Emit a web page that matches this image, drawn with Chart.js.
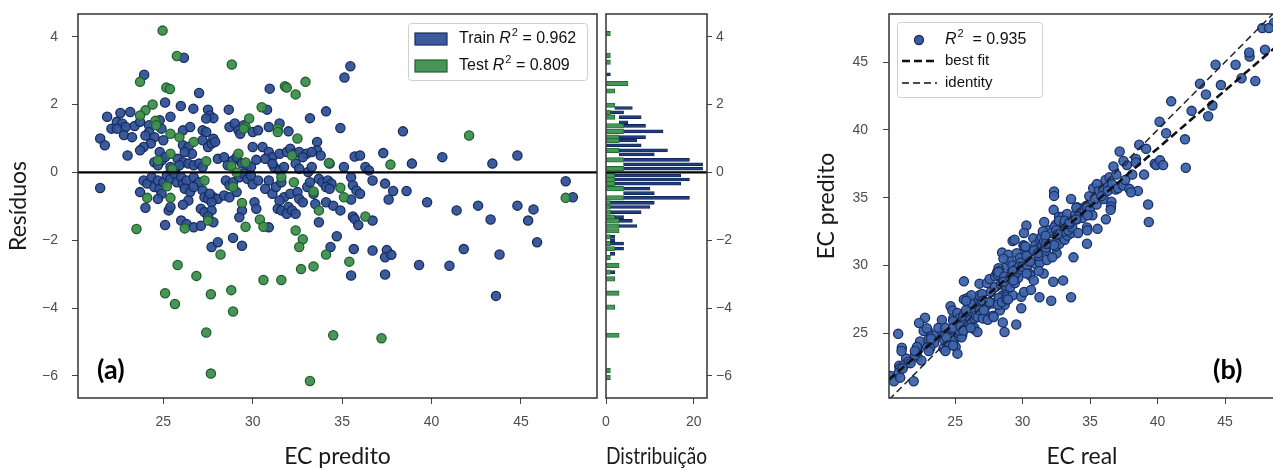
<!DOCTYPE html>
<html>
<head>
<meta charset="utf-8">
<script src="https://cdn.jsdelivr.net/npm/chart.js@4.4.1/dist/chart.umd.min.js"></script>
<style>
  html, body { margin: 0; padding: 0; width: 1273px; height: 470px; overflow: hidden; background: #fff; }
  .panel { position: absolute; top: 0; }
</style>
</head>
<body>
<div class="panel" style="left:0px"><canvas id="residChart" width="600" height="470"></canvas></div>
<div class="panel" style="left:560px"><canvas id="histChart" width="200" height="470"></canvas></div>
<div class="panel" style="left:800px"><canvas id="parityChart" width="500" height="470"></canvas></div>
<script>
// tick labels
const xTicksResid = [25, 30, 35, 40, 45];
const yTicksResid = [-6, -4, -2, 0, 2, 4];
const histTicks = [0, 20];
const parityTicks = [25, 30, 35, 40, 45];

// legend values
const r2Train = '0.962';
const r2Test = '0.809';
const r2All = '0.935';

// [EC predito, residuo] - train set (blue)
const trainPoints = [
  [26.15,3.38],[23.93,2.88],[35.46,3.13],[35.13,2.80],[27.0,2.34],[30.95,2.47],[25.1,2.06],[25.98,1.96],
  [26.68,1.88],[27.5,1.85],[27.6,1.68],[28.66,1.85],[30.8,1.85],[34.1,1.80],[33.2,1.60],[34.9,1.31],
  [38.4,1.21],[21.86,1.64],[22.6,1.75],[23.15,1.78],[22.4,1.49],[22.7,1.44],[22.9,1.34],[22.1,1.29],
  [22.4,1.29],[22.8,1.10],[23.25,1.04],[21.47,1.00],[21.73,0.80],[23.0,0.50],[23.4,1.37],[23.7,1.49],
  [24.2,1.39],[24.2,1.19],[24.0,1.09],[24.5,1.04],[24.3,0.85],[23.9,0.75],[23.7,0.65],[24.8,1.54],
  [24.9,1.29],[25.0,0.95],[25.4,1.64],[26.1,1.24],[26.5,1.34],[26.1,0.80],[26.4,0.75],[26.6,0.55],
  [26.2,0.60],[27.2,1.24],[27.4,1.19],[27.2,0.95],[27.5,0.75],[27.7,0.85],[27.8,0.99],[27.9,0.90],
  [27.8,1.60],[27.4,1.59],[28.7,1.34],[29.0,1.44],[29.2,1.24],[29.5,1.39],[29.3,1.14],[30.0,1.19],
  [30.3,1.24],[30.9,1.34],[31.5,1.44],[32.0,1.21],[30.0,0.75],[30.55,0.75],[30.9,0.60],[31.1,0.45],
  [30.7,0.40],[30.2,0.37],[31.5,0.55],[31.9,0.60],[32.1,0.70],[32.3,0.55],[32.6,0.60],[33.0,0.55],
  [32.8,0.45],[33.6,0.90],[33.6,0.65],[33.8,0.50],[33.3,0.60],[34.3,0.26],[35.1,0.16],[35.7,0.47],
  [36.0,0.50],[36.3,0.16],[36.5,0.06],[37.3,0.57],[38.9,0.26],[40.6,0.45],[43.4,0.26],[44.8,0.50],
  [28.05,0.40],[28.4,0.45],[28.6,0.21],[28.9,0.35],[29.1,0.45],[29.4,0.26],[29.7,0.21],[29.9,0.16],
  [25.8,0.40],[26.1,0.30],[26.4,0.26],[26.7,0.21],[27.0,0.26],[27.2,0.16],[24.8,0.60],[24.9,0.35],
  [25.1,0.45],[24.5,0.30],[24.7,0.21],[25.4,0.16],[25.65,0.06],[25.9,0.21],[31.2,0.16],[31.5,0.06],
  [31.75,0.16],[31.1,0.26],[32.4,0.26],[32.6,0.11],[33.1,0.01],[33.3,0.16],
  [21.47,-0.46],[23.9,-0.24],[24.1,-0.33],[24.35,-0.14],[24.5,-0.43],[23.7,-0.58],[24.0,-1.04],[24.7,-0.24],
  [24.8,-0.48],[25.0,-0.29],[24.9,-0.63],[24.7,-0.78],[25.2,-0.09],[25.4,-0.19],[25.65,-0.04],[25.76,-0.29],
  [26.0,-0.14],[26.1,-0.34],[26.3,-0.24],[26.2,-0.48],[26.5,-0.58],[26.4,-0.83],[26.1,-0.95],[25.3,-1.12],
  [25.4,-1.02],[25.1,-1.55],[26.0,-1.42],[26.3,-1.52],[26.7,-1.62],[27.1,-1.57],[26.7,-0.14],[27.0,-0.29],
  [26.7,-0.43],[27.2,-0.53],[27.3,-0.73],[27.5,-0.78],[27.8,-0.73],[28.05,-0.78],[27.7,-0.88],[27.6,-0.63],
  [27.1,-1.07],[27.3,-1.17],[27.7,-1.12],[27.5,-1.30],[27.8,-1.47],[27.7,-2.20],[28.05,-2.06],[28.5,-0.24],
  [28.7,-0.38],[28.9,-0.29],[28.4,-0.68],[28.7,-0.73],[29.1,-0.58],[29.25,-0.14],[29.5,-0.04],[29.7,-0.19],
  [29.9,-0.09],[30.0,-0.35],[29.4,-1.12],[29.25,-1.32],[28.9,-1.93],[29.4,-2.16],[30.1,-0.88],[30.2,-1.07],
  [30.9,-1.62],[30.3,-0.24],[30.7,-0.48],[30.9,-0.24],[31.1,-0.63],[31.3,-0.43],[31.6,-0.29],[31.75,-0.73],
  [32.1,-0.63],[31.4,-1.07],[31.6,-1.12],[32.0,-1.02],[31.9,-1.22],[32.2,-1.12],[32.4,-1.22],[31.5,-0.83],
  [32.5,-0.58],[32.6,-0.78],[32.8,-0.88],[33.05,-0.43],[33.4,-0.63],[33.5,-0.93],[33.2,-0.29],[33.7,-0.19],
  [33.9,-0.29],[34.2,-0.24],[34.4,-0.33],[34.1,-0.43],[34.3,-0.48],[34.1,-0.88],[34.5,-0.98],[34.9,-1.12],
  [33.7,-1.47],[34.7,-1.88],[34.35,-2.20],[35.5,-0.14],[35.6,-0.38],[35.8,-0.53],[36.0,-0.63],[35.5,-0.80],
  [35.6,-1.30],[35.7,-1.37],[35.9,-1.55],[35.65,-2.26],[36.7,-0.24],[36.7,-1.42],[36.7,-2.30],[35.5,-3.04],
  [37.4,-0.33],[37.85,-0.55],[37.6,-0.80],[37.5,-2.29],[37.4,-2.50],[37.75,-2.43],[37.4,-3.01],[38.6,-0.55],
  [39.75,-0.88],[39.3,-2.73],[41.0,-2.75],[41.4,-1.12],[41.8,-2.26],[42.6,-0.98],[43.3,-1.39],[43.8,-2.42],
  [43.6,-3.64],[44.8,-0.98],[45.4,-1.42],[45.7,-1.09],[45.9,-2.06],[47.5,-0.26],[47.9,-0.73]
];

// [EC predito, residuo] - test set (green)
const testPoints = [
  [24.96,4.18],[25.76,3.43],[28.83,3.18],[23.7,2.67],[25.17,2.50],[25.37,2.46],[31.8,2.54],[31.9,2.50],
  [32.95,2.67],[32.4,2.30],[24.4,2.00],[24.0,1.83],[23.7,1.68],[30.5,1.92],[29.8,1.59],[24.56,1.52],
  [24.6,1.39],[25.4,1.14],[25.9,1.04],[29.6,1.34],[29.5,1.29],[31.4,1.29],[31.4,1.19],[32.5,1.00],
  [26.7,0.90],[25.4,0.55],[29.2,0.55],[32.2,0.50],[34.26,0.28],[37.7,0.23],[24.7,0.35],[42.1,1.09],
  [27.4,0.33],[28.8,0.19],[29.6,0.29],[25.5,0.10],[29.1,0.00],[31.6,-0.14],[32.3,-0.29],[27.3,-0.24],
  [25.2,-0.41],[28.9,-0.43],[33.4,-0.56],[34.9,-0.45],[35.1,-0.73],[24.1,-0.75],[25.4,-0.75],[29.4,-0.90],
  [33.7,-1.12],[36.3,-1.30],[47.5,-0.75],[30.4,-1.39],[30.6,-1.60],[27.5,-1.42],[29.6,-1.60],[23.5,-1.67],
  [26.2,-1.65],[32.4,-1.71],[32.8,-1.97],[32.6,-2.20],[34.1,-2.42],[28.2,-2.42],[25.8,-2.73],[35.4,-2.63],
  [33.4,-2.77],[32.7,-2.85],[26.85,-3.05],[30.6,-3.17],[31.6,-3.17],[25.1,-3.56],[28.8,-3.47],[27.66,-3.59],
  [25.65,-3.88],[28.9,-4.10],[27.4,-4.72],[34.5,-4.80],[37.2,-4.89],[27.66,-5.93],[33.2,-6.15]
];

// residual distribution (horizontal histogram)
const histTestBins = [4.09,3.45,3.25,2.62,2.40,1.98,1.77,1.63,1.37,1.21,1.04,0.94,0.65,0.37,0.11,-0.09,-0.21,-0.33,-0.48,-0.75,
  -0.90,-1.02,-1.17,-1.32,-1.43,-1.58,-1.72,-1.90,-2.10,-2.25,-2.51,-2.74,-2.94,-3.14,-3.56,-3.97,-4.80,-5.84,-6.04];
const histTestCounts = [1,1,1,5,2,2,1,2,4,4,3,3,3,4,4,2,2,2,4,4,
  1,1,1,2,3,3,3,1,1,2,1,3,1,2,3,2,3,1,1];
const histTrainBins = [2.89,1.90,1.77,1.63,1.48,1.37,1.21,1.04,0.94,0.80,0.65,0.53,0.37,0.24,0.11,-0.09,-0.21,-0.33,-0.48,-0.61,
  -0.75,-0.90,-1.02,-1.17,-1.32,-1.43,-1.58,-1.90,-2.00,-2.10,-2.25,-2.40,-2.94];
// train bars are stacked after the test bars
const histTrainBase = [0,2,1,3,3,4,4,3,3,0,3,3,4,4,4,2,2,2,4,4,
  4,1,1,1,2,3,3,1,1,1,2,1,1];
const histTrainCounts = [1,4,3,5,2,5,9,6,4,8,11,8,15,18,18,15,17,15,6,7,
  15,10,9,7,2,3,4,1,1,3,2,1,1];

// panel (b) reference lines, [EC real, EC predito]
const bestFitLine = [[20.1, 21.59], [48.7, 46.07]];
const identityLine = [[20.1, 20.1], [48.7, 48.7]];

// axis limits
const residX = [20.23, 49.25];
const residY = [-6.65, 4.67];
const histMax = 23;
const parityX = [20.1, 48.7];
const parityY = [20.23, 48.54];

const tickFont = { family: 'Liberation Sans', size: 14 };
const tickColor = '#4d4d4d';
const titleFont = { family: 'Lato', size: 23 };
const trainFill = 'rgba(50,82,152,0.95)', trainEdge = '#172c5e';
const testFill = 'rgba(63,143,79,0.95)', testEdge = '#1e5f2c';

const fmt = v => v < 0 ? '\u2212' + Math.abs(v) : String(v);

function axis(o) {
  return {
    type: 'linear', position: o.position, min: o.min, max: o.max, offset: false,
    afterBuildTicks: s => { s.ticks = o.ticks.map(v => ({ value: v })); },
    afterFit: s => {
      if (o.width !== undefined) s.width = o.width;
      if (o.height !== undefined) s.height = o.height;
      // plot areas are placed by the layout padding only
      s.paddingTop = 0; s.paddingBottom = 0; s.paddingLeft = 0; s.paddingRight = 0;
    },
    grid: { drawOnChartArea: false, drawTicks: true, tickLength: o.tickLength || 6, color: '#444', offset: false },
    border: { display: false },
    ticks: { font: tickFont, color: tickColor, padding: o.tickPad, callback: fmt, autoSkip: false, maxRotation: 0 },
    title: o.title
      ? { display: true, text: o.title, font: titleFont, color: '#1a1a1a', padding: o.titlePad }
      : { display: false }
  };
}

// full box around the plot area
const framePlugin = {
  id: 'frame',
  afterDraw(chart) {
    const { ctx, chartArea: a } = chart;
    ctx.save();
    ctx.strokeStyle = '#333';
    ctx.lineWidth = 1.5;
    ctx.strokeRect(a.left, a.top, a.right - a.left, a.bottom - a.top);
    ctx.restore();
  }
};

function legendFrame(ctx, x, y, w, h) {
  ctx.save();
  ctx.fillStyle = 'rgba(255,255,255,0.85)';
  ctx.strokeStyle = '#cfcfcf';
  ctx.lineWidth = 1;
  ctx.beginPath();
  ctx.roundRect(x + 0.5, y + 0.5, w, h, 3);
  ctx.fill();
  ctx.stroke();
  ctx.restore();
}

// "<prefix>R² = value" with italic R and raised 2
function r2Text(ctx, x, y, prefix, gap, value, size) {
  const parts = [
    { t: prefix, f: `${size}px "Liberation Sans"`, dy: 0 },
    { t: 'R', f: `italic ${size}px "Liberation Sans"`, dy: 0 },
    { t: '2', f: `${Math.round(size * 0.68)}px "Liberation Sans"`, dy: -size * 0.36 },
    { t: gap + '= ' + value, f: `${size}px "Liberation Sans"`, dy: 0 }
  ];
  ctx.save();
  ctx.fillStyle = '#111';
  ctx.textBaseline = 'middle';
  let cx = x;
  parts.forEach(p => {
    ctx.font = p.f;
    ctx.fillText(p.t, cx, y + p.dy);
    cx += ctx.measureText(p.t).width + (p.t === 'R' ? 1 : 0);
  });
  ctx.restore();
}

function panelLabel(ctx, text, x, y) {
  ctx.save();
  ctx.font = 'bold 27px Lato';
  ctx.fillStyle = '#000';
  ctx.textBaseline = 'middle';
  ctx.fillText(text, x, y);
  ctx.restore();
}

const residLegend = {
  id: 'residLegend',
  afterDraw(chart) {
    const { ctx, chartArea: a } = chart;
    const w = 179, h = 57, x = a.right - 10 - w, y = a.top + 9;
    legendFrame(ctx, x, y, w, h);
    [[trainFill, trainEdge, 'Train ', r2Train, 16], [testFill, testEdge, 'Test ', r2Test, 43]].forEach(([fill, edge, name, val, dy]) => {
      ctx.save();
      ctx.fillStyle = fill;
      ctx.strokeStyle = edge;
      ctx.lineWidth = 1.2;
      ctx.fillRect(x + 7, y + dy - 6, 32, 12);
      ctx.strokeRect(x + 7, y + dy - 6, 32, 12);
      ctx.restore();
      r2Text(ctx, x + 51, y + dy, name, ' ', val, 16);
    });
    panelLabel(ctx, '(a)', a.left + 19, a.bottom - 28);
  }
};

const parityLegend = {
  id: 'parityLegend',
  afterDraw(chart) {
    const { ctx, chartArea: a } = chart;
    const x = a.left + 8, y = a.top + 8, w = 145, h = 75;
    legendFrame(ctx, x, y, w, h);
    ctx.save();
    ctx.fillStyle = trainFill;
    ctx.strokeStyle = trainEdge;
    ctx.lineWidth = 1.3;
    ctx.beginPath();
    ctx.arc(x + 22, y + 18, 4.5, 0, Math.PI * 2);
    ctx.fill();
    ctx.stroke();
    ctx.strokeStyle = '#111';
    ctx.lineWidth = 2.6;
    ctx.setLineDash([8, 4]);
    ctx.beginPath(); ctx.moveTo(x + 5, y + 39); ctx.lineTo(x + 40, y + 39); ctx.stroke();
    ctx.lineWidth = 1.5;
    ctx.setLineDash([7, 4]);
    ctx.beginPath(); ctx.moveTo(x + 5, y + 61); ctx.lineTo(x + 40, y + 61); ctx.stroke();
    ctx.setLineDash([]);
    ctx.fillStyle = '#111';
    ctx.font = '15px "Liberation Sans"';
    ctx.textBaseline = 'middle';
    ctx.fillText('best fit', x + 48, y + 39);
    ctx.fillText('identity', x + 48, y + 61);
    ctx.restore();
    r2Text(ctx, x + 48, y + 18, '', '  ', r2All, 16);
    panelLabel(ctx, '(b)', a.right - 62, a.bottom - 28);
  }
};

const common = {
  responsive: false,
  animation: false,
  events: [],
  plugins: { legend: { display: false }, tooltip: { enabled: false } }
};

const pointStyle = (fill, edge) => ({
  backgroundColor: fill, borderColor: edge, pointRadius: 4.6, pointBorderWidth: 1.3, showLine: false
});

// (a) residuals vs predicted
new Chart(document.getElementById('residChart'), {
  type: 'scatter',
  data: {
    datasets: [
      { label: 'zero', data: [{ x: residX[0], y: 0 }, { x: residX[1], y: 0 }], showLine: true,
        borderColor: '#000', borderWidth: 2.2, pointRadius: 0, order: 0 },
      { label: 'Test', data: testPoints.map(([x, y]) => ({ x, y })), ...pointStyle(testFill, testEdge), order: 1 },
      { label: 'Train', data: trainPoints.map(([x, y]) => ({ x, y })), ...pointStyle(trainFill, trainEdge), order: 2 }
    ]
  },
  options: {
    ...common,
    layout: { autoPadding: false, padding: { top: 14, right: 3, left: 0, bottom: 0 } },
    scales: {
      x: axis({ position: 'bottom', min: residX[0], max: residX[1], ticks: xTicksResid, height: 72, tickPad: 10,
        title: 'EC predito', titlePad: { top: 0, bottom: 0 } }),
      y: axis({ position: 'left', min: residY[0], max: residY[1], ticks: yTicksResid, width: 78, tickPad: 14,
        title: 'Resíduos', titlePad: { top: 5, bottom: 0 } })
    }
  },
  plugins: [framePlugin, residLegend]
});

// residual distribution
new Chart(document.getElementById('histChart'), {
  type: 'bar',
  data: {
    datasets: [
      { type: 'line', label: 'zero', data: [{ x: 0, y: 0 }, { x: histMax, y: 0 }], borderColor: '#000',
        borderWidth: 2.2, pointRadius: 0, order: 0 },
      { label: 'Test', indexAxis: 'y', grouped: false, barThickness: 4.5,
        data: histTestBins.map((b, i) => ({ x: histTestCounts[i], y: b })),
        backgroundColor: 'rgba(61,145,80,0.95)', borderColor: '#1d6a2e', borderWidth: 0.8, borderSkipped: false, order: 1 },
      { label: 'Train', indexAxis: 'y', grouped: false, barThickness: 3,
        data: histTrainBins.map((b, i) => ({ x: [histTrainBase[i], histTrainBase[i] + histTrainCounts[i]], y: b })),
        backgroundColor: '#223d7e', borderColor: '#0f2150', borderWidth: 0.8, borderSkipped: false, order: 2 }
    ]
  },
  options: {
    ...common,
    layout: { autoPadding: false, padding: { top: 14, right: 0, left: 46, bottom: 0 } },
    scales: {
      x: axis({ position: 'bottom', min: 0, max: histMax, ticks: histTicks, height: 72, tickPad: 10,
        title: 'Distribuição', titlePad: { top: 0, bottom: 0 } }),
      y: axis({ position: 'right', min: residY[0], max: residY[1], ticks: yTicksResid, width: 53, tickPad: 4, tickLength: 5 })
    }
  },
  plugins: [framePlugin]
});

// (b) predicted vs real; residual = predito - real
const parityPoints = trainPoints.concat(testPoints).map(([pred, resid]) => ({ x: pred - resid, y: pred }));

new Chart(document.getElementById('parityChart'), {
  type: 'scatter',
  data: {
    datasets: [
      { label: 'best fit', data: bestFitLine.map(([x, y]) => ({ x, y })), showLine: true, borderColor: '#111',
        borderWidth: 2.6, borderDash: [8, 4], pointRadius: 0, order: 0 },
      { label: 'identity', data: identityLine.map(([x, y]) => ({ x, y })), showLine: true, borderColor: '#222',
        borderWidth: 1.5, borderDash: [7, 4], pointRadius: 0, order: 1 },
      { label: 'R2', data: parityPoints, ...pointStyle('rgba(62,100,170,0.95)', '#1a3068'), order: 2 }
    ]
  },
  options: {
    ...common,
    layout: { autoPadding: false, padding: { top: 14, right: 25, left: 0, bottom: 0 } },
    scales: {
      x: axis({ position: 'bottom', min: parityX[0], max: parityX[1], ticks: parityTicks, height: 72, tickPad: 10,
        title: 'EC real', titlePad: { top: 0, bottom: 0 } }),
      y: axis({ position: 'left', min: parityY[0], max: parityY[1], ticks: parityTicks, width: 89, tickPad: 15,
        title: 'EC predito', titlePad: { top: 13, bottom: 0 } })
    }
  },
  plugins: [framePlugin, parityLegend]
});
</script>
</body>
</html>
